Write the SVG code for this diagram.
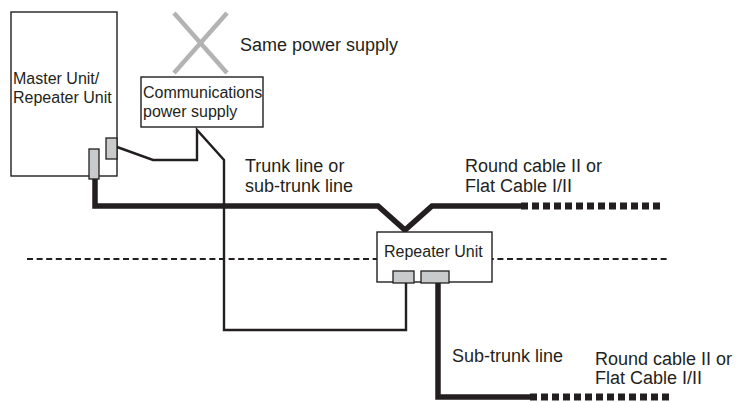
<svg xmlns="http://www.w3.org/2000/svg" width="744" height="402" viewBox="0 0 744 402">
<style>
text{font-family:"Liberation Sans",Arial,sans-serif;fill:#231f20}
.lbl{font-size:18px}
.in{font-size:16px}
.box{fill:#fff;stroke:#231f20;stroke-width:1.4}
.conn{fill:#c9cacb;stroke:#231f20;stroke-width:1.3}
.thin{fill:none;stroke:#231f20;stroke-width:2.4;stroke-linejoin:miter}
.thick{fill:none;stroke:#231f20;stroke-width:5.5;stroke-linejoin:miter}
.thickdash{fill:none;stroke:#231f20;stroke-width:7;stroke-dasharray:7 4}
.sep{fill:none;stroke:#231f20;stroke-width:2;stroke-dasharray:6 3.6}
.cross{stroke:#b3b3b3;stroke-width:4.5}
</style>
<g id="separator">
<line class="sep" x1="27" y1="259" x2="669" y2="259"/>
</g>
<g id="connectors">
<polyline class="thin" points="117,147 153,160 197,160 197,130 224,160 224,330 406,330 406,283"/>
<polyline class="thick" points="95,179 95,206 378,206 405,230 432,206 521,206"/>
<line class="thickdash" x1="521" y1="206" x2="660" y2="206"/>
<polyline class="thick" points="438,283 438,397 530,397"/>
<line class="thickdash" x1="530" y1="397" x2="669" y2="397"/>
</g>
<g id="master-unit">
<rect class="box" x="11" y="12" width="106" height="164"/>
<text class="in" x="13" y="84">Master Unit/</text>
<text class="in" x="13" y="103">Repeater Unit</text>
<rect class="conn" x="106" y="138" width="11" height="21"/>
<rect class="conn" x="89" y="149" width="10" height="30"/>
</g>
<g id="same-power-supply">
<line class="cross" x1="174" y1="13" x2="227" y2="73"/>
<line class="cross" x1="227" y1="13" x2="174" y2="73"/>
<text class="lbl" x="240" y="51">Same power supply</text>
</g>
<g id="comm-power-supply">
<rect class="box" x="141" y="77" width="122" height="50"/>
<text class="in" x="143" y="98">Communications</text>
<text class="in" x="143" y="117">power supply</text>
</g>
<g id="repeater-unit">
<rect class="box" x="377" y="232" width="115" height="50"/>
<text class="in" x="384" y="257">Repeater Unit</text>
<rect class="conn" x="393" y="271" width="21" height="12"/>
<rect class="conn" x="421" y="271" width="28" height="12"/>
</g>
<g id="labels">
<text class="lbl" x="245" y="172">Trunk line or</text>
<text class="lbl" x="245" y="192">sub-trunk line</text>
<text class="lbl" x="465" y="172">Round cable II or</text>
<text class="lbl" x="465" y="192">Flat Cable I/II</text>
<text class="lbl" x="452" y="362">Sub-trunk line</text>
<text class="lbl" x="595" y="365">Round cable II or</text>
<text class="lbl" x="595" y="384">Flat Cable I/II</text>
</g>
</svg>
